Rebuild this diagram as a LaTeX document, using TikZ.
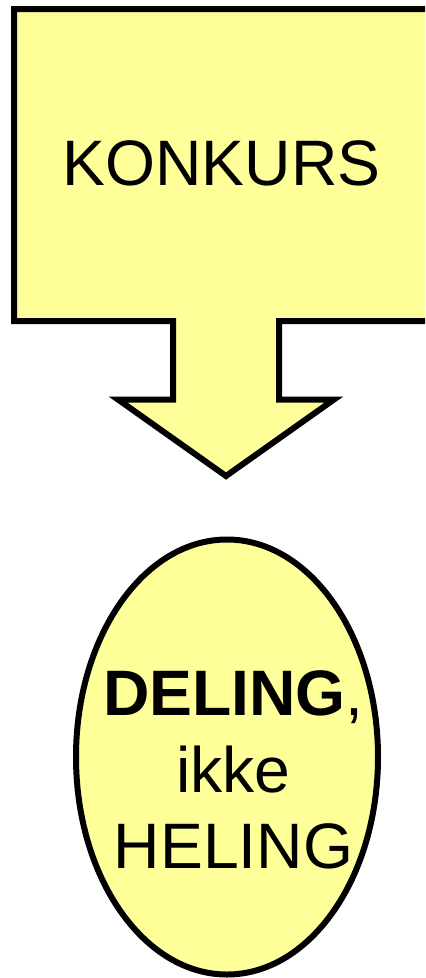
\documentclass[tikz,border=0pt]{standalone}
\usepackage{fontspec}
\setmainfont{Liberation Sans}
\usetikzlibrary{shapes.geometric}
\definecolor{paleyellow}{HTML}{FFFF99}
\tikzset{
  shapeline/.style={draw=black,line width=6bp,fill=paleyellow,line join=miter},
  bigtext/.style={anchor=base,inner sep=0pt,font=\fontsize{64.5}{76}\selectfont}
}
\begin{document}
\begin{tikzpicture}[x=1bp,y=-1bp]
  \useasboundingbox (0,0) rectangle (425,978);
  \clip (0,0) rectangle (425,978);
  % box with the downward arrow
  \draw [shapeline] (14,9) -- (432,9) -- (432,321) -- (279,321) -- (279,399.5) -- (334,399.5)
    -- (226,476) -- (118,399.5) -- (173,399.5) -- (173,321) -- (14,321) -- cycle;
  \node (Konkurs) at (221.5,185) [bigtext] {KONKURS};
  % the egg
  \node (Egg) at (227,757) [ellipse,shapeline,minimum width=302bp,minimum height=435bp,inner sep=0pt] {};
  \node (Deling) at (233.5,715) [bigtext] {\textbf{DELING},};
  \node (Ikke) at (233.5,792) [bigtext] {ikke};
  \node (Heling) at (233.5,868) [bigtext] {HELING};
\end{tikzpicture}
\end{document}
